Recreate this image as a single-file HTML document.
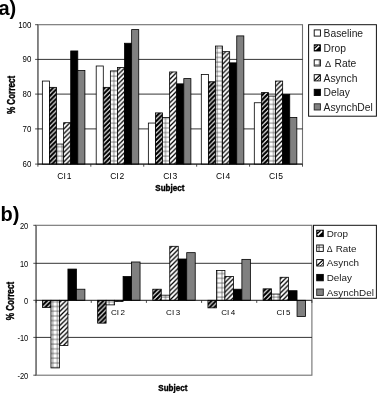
<!DOCTYPE html>
<html><head><meta charset="utf-8"><title>Figure</title>
<style>
html,body{margin:0;padding:0;background:#fff;}
svg{display:block;}
text{font-family:"Liberation Sans",Arial,sans-serif;fill:#000;}
.b{font-weight:bold;}
.bs{font-weight:bold;stroke:#000;stroke-width:0.4px;}
.lg{fill:#1a1a1a;}
</style></head><body>
<svg width="378" height="393" viewBox="0 0 378 393">
<defs>
<pattern id="pDrop" patternUnits="userSpaceOnUse" width="4.7" height="4.7">
<rect width="4.7" height="4.7" fill="#fff"/>
<path d="M-4.7,4.7 L4.7,-4.7 M0,9.4 L9.4,0 M-1,5.7 L5.7,-1" stroke="#000" stroke-width="2.2" fill="none"/>
</pattern>
<pattern id="pAsy" patternUnits="userSpaceOnUse" width="4.7" height="4.7">
<rect width="4.7" height="4.7" fill="#fff"/>
<path d="M-4.7,4.7 L4.7,-4.7 M0,9.4 L9.4,0 M-1,5.7 L5.7,-1" stroke="#000" stroke-width="1.3" fill="none"/>
</pattern>
<pattern id="pGrid" patternUnits="userSpaceOnUse" width="4.7" height="4.7">
<rect width="4.7" height="4.7" fill="#fff"/>
<path d="M0,1 H4.7 M1,0 V4.7" stroke="#3a3a3a" stroke-width="0.62" fill="none"/>
</pattern>
</defs>
<rect width="378" height="393" fill="#fff"/>
<rect x="37.9" y="24.7" width="264.60" height="139.40" fill="#fff" stroke="#707070" stroke-width="1.1"/>
<line x1="37.9" x2="37.9" y1="24.7" y2="164.1" stroke="#777" stroke-width="1.5"/>
<line x1="37.9" x2="302.5" y1="59.40" y2="59.40" stroke="#000" stroke-width="0.8"/>
<line x1="37.9" x2="302.5" y1="94.10" y2="94.10" stroke="#000" stroke-width="0.8"/>
<line x1="37.9" x2="302.5" y1="128.90" y2="128.90" stroke="#000" stroke-width="0.8"/>
<text transform="translate(64.36,179.00)" font-size="8.5" text-anchor="middle" word-spacing="-1.5">CI 1</text>
<text transform="translate(117.28,179.00)" font-size="8.5" text-anchor="middle" word-spacing="-1.5">CI 2</text>
<text transform="translate(170.20,179.00)" font-size="8.5" text-anchor="middle" word-spacing="-1.5">CI 3</text>
<text transform="translate(223.12,179.00)" font-size="8.5" text-anchor="middle" word-spacing="-1.5">CI 4</text>
<text transform="translate(276.04,179.00)" font-size="8.5" text-anchor="middle" word-spacing="-1.5">CI 5</text>
<rect x="42.35" y="81.05" width="7.09" height="83.05" fill="#fff" stroke="#000" stroke-width="0.8"/>
<rect x="49.44" y="87.35" width="7.09" height="76.75" fill="url(#pDrop)" stroke="#000" stroke-width="0.8"/>
<rect x="56.53" y="144.05" width="7.09" height="20.05" fill="url(#pGrid)" stroke="#000" stroke-width="0.8"/>
<rect x="63.62" y="122.70" width="7.09" height="41.40" fill="url(#pAsy)" stroke="#000" stroke-width="0.8"/>
<rect x="70.71" y="50.95" width="7.09" height="113.15" fill="#000" stroke="#000" stroke-width="0.8"/>
<rect x="77.80" y="70.55" width="7.09" height="93.55" fill="#808080" stroke="#000" stroke-width="0.8"/>
<rect x="96.20" y="66.00" width="7.09" height="98.10" fill="#fff" stroke="#000" stroke-width="0.8"/>
<rect x="103.29" y="87.35" width="7.09" height="76.75" fill="url(#pDrop)" stroke="#000" stroke-width="0.8"/>
<rect x="110.38" y="70.90" width="7.09" height="93.20" fill="url(#pGrid)" stroke="#000" stroke-width="0.8"/>
<rect x="117.47" y="67.40" width="7.09" height="96.70" fill="url(#pAsy)" stroke="#000" stroke-width="0.8"/>
<rect x="124.56" y="43.25" width="7.09" height="120.85" fill="#000" stroke="#000" stroke-width="0.8"/>
<rect x="131.65" y="29.60" width="7.09" height="134.50" fill="#808080" stroke="#000" stroke-width="0.8"/>
<rect x="148.35" y="123.05" width="7.09" height="41.05" fill="#fff" stroke="#000" stroke-width="0.8"/>
<rect x="155.44" y="112.90" width="7.09" height="51.20" fill="url(#pDrop)" stroke="#000" stroke-width="0.8"/>
<rect x="162.53" y="117.45" width="7.09" height="46.65" fill="url(#pGrid)" stroke="#000" stroke-width="0.8"/>
<rect x="169.62" y="71.95" width="7.09" height="92.15" fill="url(#pAsy)" stroke="#000" stroke-width="0.8"/>
<rect x="176.71" y="83.85" width="7.09" height="80.25" fill="#000" stroke="#000" stroke-width="0.8"/>
<rect x="183.80" y="78.60" width="7.09" height="85.50" fill="#808080" stroke="#000" stroke-width="0.8"/>
<rect x="201.30" y="74.40" width="7.09" height="89.70" fill="#fff" stroke="#000" stroke-width="0.8"/>
<rect x="208.39" y="81.75" width="7.09" height="82.35" fill="url(#pDrop)" stroke="#000" stroke-width="0.8"/>
<rect x="215.48" y="46.05" width="7.09" height="118.05" fill="url(#pGrid)" stroke="#000" stroke-width="0.8"/>
<rect x="222.57" y="51.65" width="7.09" height="112.45" fill="url(#pAsy)" stroke="#000" stroke-width="0.8"/>
<rect x="229.66" y="62.85" width="7.09" height="101.25" fill="#000" stroke="#000" stroke-width="0.8"/>
<rect x="236.75" y="35.90" width="7.09" height="128.20" fill="#808080" stroke="#000" stroke-width="0.8"/>
<rect x="254.30" y="102.75" width="7.09" height="61.35" fill="#fff" stroke="#000" stroke-width="0.8"/>
<rect x="261.39" y="92.60" width="7.09" height="71.50" fill="url(#pDrop)" stroke="#000" stroke-width="0.8"/>
<rect x="268.48" y="96.10" width="7.09" height="68.00" fill="url(#pGrid)" stroke="#000" stroke-width="0.8"/>
<rect x="275.57" y="81.05" width="7.09" height="83.05" fill="url(#pAsy)" stroke="#000" stroke-width="0.8"/>
<rect x="282.66" y="94.35" width="7.09" height="69.75" fill="#000" stroke="#000" stroke-width="0.8"/>
<rect x="289.75" y="117.45" width="7.09" height="46.65" fill="#808080" stroke="#000" stroke-width="0.8"/>
<line x1="37.9" x2="302.5" y1="164.10" y2="164.10" stroke="#000" stroke-width="0.9"/>
<line x1="37.90" x2="37.90" y1="164.10" y2="166.70" stroke="#222" stroke-width="0.8"/>
<line x1="90.82" x2="90.82" y1="164.10" y2="166.70" stroke="#222" stroke-width="0.8"/>
<line x1="143.74" x2="143.74" y1="164.10" y2="166.70" stroke="#222" stroke-width="0.8"/>
<line x1="196.66" x2="196.66" y1="164.10" y2="166.70" stroke="#222" stroke-width="0.8"/>
<line x1="249.58" x2="249.58" y1="164.10" y2="166.70" stroke="#222" stroke-width="0.8"/>
<line x1="302.50" x2="302.50" y1="164.10" y2="166.70" stroke="#222" stroke-width="0.8"/>
<line x1="35.10" x2="37.9" y1="24.70" y2="24.70" stroke="#222" stroke-width="0.8"/>
<text transform="translate(31.30,27.74) scale(0.93,1)" font-size="8.5" text-anchor="end">100</text>
<line x1="35.10" x2="37.9" y1="59.40" y2="59.40" stroke="#222" stroke-width="0.8"/>
<text transform="translate(31.30,62.44) scale(0.93,1)" font-size="8.5" text-anchor="end">90</text>
<line x1="35.10" x2="37.9" y1="94.10" y2="94.10" stroke="#222" stroke-width="0.8"/>
<text transform="translate(31.30,97.14) scale(0.93,1)" font-size="8.5" text-anchor="end">80</text>
<line x1="35.10" x2="37.9" y1="128.90" y2="128.90" stroke="#222" stroke-width="0.8"/>
<text transform="translate(31.30,131.94) scale(0.93,1)" font-size="8.5" text-anchor="end">70</text>
<line x1="35.10" x2="37.9" y1="164.10" y2="164.10" stroke="#222" stroke-width="0.8"/>
<text transform="translate(31.30,167.14) scale(0.93,1)" font-size="8.5" text-anchor="end">60</text>
<rect x="36.1" y="225.3" width="275.80" height="149.90" fill="#fff" stroke="#707070" stroke-width="1.1"/>
<line x1="36.1" x2="36.1" y1="225.3" y2="375.2" stroke="#777" stroke-width="1.5"/>
<line x1="36.1" x2="311.9" y1="263.30" y2="263.30" stroke="#000" stroke-width="0.8"/>
<line x1="36.1" x2="311.9" y1="337.40" y2="337.40" stroke="#000" stroke-width="0.8"/>
<text transform="translate(62.78,315.00)" font-size="8.0" text-anchor="middle" word-spacing="-0.7">CI 1</text>
<text transform="translate(117.94,315.00)" font-size="8.0" text-anchor="middle" word-spacing="-0.7">CI 2</text>
<text transform="translate(173.10,315.00)" font-size="8.0" text-anchor="middle" word-spacing="-0.7">CI 3</text>
<text transform="translate(228.26,315.00)" font-size="8.0" text-anchor="middle" word-spacing="-0.7">CI 4</text>
<text transform="translate(283.42,315.00)" font-size="8.0" text-anchor="middle" word-spacing="-0.7">CI 5</text>
<rect x="42.46" y="300.30" width="8.49" height="7.19" fill="url(#pDrop)" stroke="#000" stroke-width="0.8"/>
<rect x="50.95" y="300.30" width="8.49" height="67.61" fill="url(#pGrid)" stroke="#000" stroke-width="0.8"/>
<rect x="59.44" y="300.30" width="8.49" height="45.23" fill="url(#pAsy)" stroke="#000" stroke-width="0.8"/>
<rect x="67.92" y="269.07" width="8.49" height="31.23" fill="#000" stroke="#000" stroke-width="0.8"/>
<rect x="76.41" y="289.21" width="8.49" height="11.09" fill="#808080" stroke="#000" stroke-width="0.8"/>
<rect x="97.62" y="300.30" width="8.49" height="22.85" fill="url(#pDrop)" stroke="#000" stroke-width="0.8"/>
<rect x="106.11" y="300.30" width="8.49" height="4.58" fill="url(#pGrid)" stroke="#000" stroke-width="0.8"/>
<rect x="114.60" y="300.30" width="8.49" height="1.22" fill="url(#pAsy)" stroke="#000" stroke-width="0.8"/>
<rect x="123.08" y="276.53" width="8.49" height="23.77" fill="#000" stroke="#000" stroke-width="0.8"/>
<rect x="131.57" y="261.98" width="8.49" height="38.32" fill="#808080" stroke="#000" stroke-width="0.8"/>
<rect x="152.78" y="289.21" width="8.49" height="11.09" fill="url(#pDrop)" stroke="#000" stroke-width="0.8"/>
<rect x="161.27" y="295.18" width="8.49" height="5.12" fill="url(#pGrid)" stroke="#000" stroke-width="0.8"/>
<rect x="169.76" y="246.31" width="8.49" height="53.99" fill="url(#pAsy)" stroke="#000" stroke-width="0.8"/>
<rect x="178.24" y="259.00" width="8.49" height="41.30" fill="#000" stroke="#000" stroke-width="0.8"/>
<rect x="186.73" y="252.66" width="8.49" height="47.64" fill="#808080" stroke="#000" stroke-width="0.8"/>
<rect x="207.94" y="300.30" width="8.49" height="7.56" fill="url(#pDrop)" stroke="#000" stroke-width="0.8"/>
<rect x="216.43" y="270.56" width="8.49" height="29.74" fill="url(#pGrid)" stroke="#000" stroke-width="0.8"/>
<rect x="224.92" y="276.53" width="8.49" height="23.77" fill="url(#pAsy)" stroke="#000" stroke-width="0.8"/>
<rect x="233.40" y="289.21" width="8.49" height="11.09" fill="#000" stroke="#000" stroke-width="0.8"/>
<rect x="241.89" y="259.37" width="8.49" height="40.93" fill="#808080" stroke="#000" stroke-width="0.8"/>
<rect x="263.10" y="288.84" width="8.49" height="11.46" fill="url(#pDrop)" stroke="#000" stroke-width="0.8"/>
<rect x="271.59" y="294.06" width="8.49" height="6.24" fill="url(#pGrid)" stroke="#000" stroke-width="0.8"/>
<rect x="280.08" y="277.27" width="8.49" height="23.03" fill="url(#pAsy)" stroke="#000" stroke-width="0.8"/>
<rect x="288.56" y="290.70" width="8.49" height="9.60" fill="#000" stroke="#000" stroke-width="0.8"/>
<rect x="297.05" y="300.30" width="8.49" height="16.14" fill="#808080" stroke="#000" stroke-width="0.8"/>
<line x1="36.1" x2="311.9" y1="300.30" y2="300.30" stroke="#000" stroke-width="0.9"/>
<line x1="36.10" x2="36.10" y1="300.30" y2="302.90" stroke="#222" stroke-width="0.8"/>
<line x1="91.26" x2="91.26" y1="300.30" y2="302.90" stroke="#222" stroke-width="0.8"/>
<line x1="146.42" x2="146.42" y1="300.30" y2="302.90" stroke="#222" stroke-width="0.8"/>
<line x1="201.58" x2="201.58" y1="300.30" y2="302.90" stroke="#222" stroke-width="0.8"/>
<line x1="256.74" x2="256.74" y1="300.30" y2="302.90" stroke="#222" stroke-width="0.8"/>
<line x1="311.90" x2="311.90" y1="300.30" y2="302.90" stroke="#222" stroke-width="0.8"/>
<line x1="33.30" x2="36.1" y1="225.30" y2="225.30" stroke="#222" stroke-width="0.8"/>
<text transform="translate(28.20,228.97) scale(0.9,1)" font-size="8.3" text-anchor="end">20</text>
<line x1="33.30" x2="36.1" y1="263.30" y2="263.30" stroke="#222" stroke-width="0.8"/>
<text transform="translate(28.20,266.97) scale(0.9,1)" font-size="8.3" text-anchor="end">10</text>
<line x1="33.30" x2="36.1" y1="300.30" y2="300.30" stroke="#222" stroke-width="0.8"/>
<text transform="translate(28.20,303.97) scale(0.9,1)" font-size="8.3" text-anchor="end">0</text>
<line x1="33.30" x2="36.1" y1="337.40" y2="337.40" stroke="#222" stroke-width="0.8"/>
<text transform="translate(28.20,341.07) scale(0.9,1)" font-size="8.3" text-anchor="end">-10</text>
<line x1="33.30" x2="36.1" y1="375.20" y2="375.20" stroke="#222" stroke-width="0.8"/>
<text transform="translate(28.20,378.87) scale(0.9,1)" font-size="8.3" text-anchor="end">-20</text>
<text class="b" transform="translate(-1.60,14.90)" font-size="20">a)</text>
<text class="b" transform="translate(0.60,220.60)" font-size="20">b)</text>
<text class="bs" transform="translate(169.80,190.50) scale(0.875,1)" font-size="9.2" text-anchor="middle">Subject</text>
<text class="bs" transform="translate(172.80,391.20) scale(0.875,1)" font-size="9.2" text-anchor="middle">Subject</text>
<text class="bs" transform="translate(14.55,95.00) rotate(-90) scale(0.81,1)" font-size="10.0" text-anchor="middle">% Correct</text>
<text class="bs" transform="translate(14.45,301.10) rotate(-90) scale(0.815,1)" font-size="10.0" text-anchor="middle">% Correct</text>
<rect x="308.6" y="24.7" width="67.80" height="91.50" fill="#fff" stroke="#111" stroke-width="1"/>
<rect x="314.2" y="29.9" width="6.2" height="6.2" fill="#fff" stroke="#000" stroke-width="0.9"/>
<text class="lg" transform="translate(323.60,36.71)" font-size="10.3">Baseline</text>
<rect x="314.2" y="44.8" width="6.2" height="6.2" fill="#000" stroke="#000" stroke-width="0.9"/>
<path d="M315.10,49.80 L319.20,45.70" stroke="#fff" stroke-width="1.5"/>
<path d="M314.80,46.80 L316.20,45.40" stroke="#fff" stroke-width="1.0"/>
<text class="lg" transform="translate(323.60,51.61)" font-size="10.3">Drop</text>
<rect x="314.2" y="59.8" width="6.2" height="6.2" fill="#fff" stroke="#000" stroke-width="0.9"/>
<path d="M314.2,64.90 H320.4 M319.30,59.8 V66.0" stroke="#555" stroke-width="0.9"/>
<text class="lg" transform="translate(325.00,66.51)" font-size="9.2">Δ</text>
<text class="lg" transform="translate(334.50,66.61)" font-size="10.3">Rate</text>
<rect x="314.2" y="74.7" width="6.2" height="6.2" fill="#fff" stroke="#000" stroke-width="0.9"/>
<path d="M314.70,80.40 L319.90,75.20" stroke="#000" stroke-width="1.3"/>
<path d="M317.30,80.90 L320.40,77.80" stroke="#000" stroke-width="0.8"/>
<text class="lg" transform="translate(323.60,81.51)" font-size="10.3">Asynch</text>
<rect x="314.2" y="89.3" width="6.2" height="6.2" fill="#000" stroke="#000" stroke-width="0.9"/>
<text class="lg" transform="translate(323.60,96.11)" font-size="10.3">Delay</text>
<rect x="314.2" y="103.8" width="6.2" height="6.2" fill="#808080" stroke="#222" stroke-width="0.9"/>
<text class="lg" transform="translate(323.60,110.61)" font-size="10.3">AsynchDel</text>
<rect x="313.5" y="225.3" width="62.90" height="73.00" fill="#fff" stroke="#111" stroke-width="1"/>
<rect x="316.7" y="230.2" width="6.6" height="6.4" fill="#000" stroke="#000" stroke-width="0.9"/>
<path d="M317.60,235.40 L322.10,231.10" stroke="#fff" stroke-width="1.5"/>
<path d="M317.30,232.20 L318.70,230.80" stroke="#fff" stroke-width="1.0"/>
<text class="lg" transform="translate(326.70,236.96)" font-size="9.9">Drop</text>
<rect x="316.7" y="245.0" width="6.6" height="6.4" fill="#fff" stroke="#000" stroke-width="0.9"/>
<path d="M316.7,247.30 H323.3 M319.08,245.0 V251.4" stroke="#333" stroke-width="0.8"/>
<text class="lg" transform="translate(326.80,251.66)" font-size="8.7">Δ</text>
<text class="lg" transform="translate(335.70,251.76)" font-size="9.9">Rate</text>
<rect x="316.7" y="259.6" width="6.6" height="6.4" fill="#fff" stroke="#000" stroke-width="0.9"/>
<path d="M317.20,265.50 L322.80,260.10" stroke="#000" stroke-width="1.3"/>
<path d="M320.00,266.00 L323.30,262.80" stroke="#000" stroke-width="0.8"/>
<text class="lg" transform="translate(326.70,266.36)" font-size="9.9">Asynch</text>
<rect x="316.7" y="274.4" width="6.6" height="6.4" fill="#000" stroke="#000" stroke-width="0.9"/>
<text class="lg" transform="translate(326.70,281.16)" font-size="9.9">Delay</text>
<rect x="316.7" y="289.0" width="6.6" height="6.4" fill="#808080" stroke="#222" stroke-width="0.9"/>
<text class="lg" transform="translate(326.70,295.76)" font-size="9.9">AsynchDel</text>
</svg></body></html>
